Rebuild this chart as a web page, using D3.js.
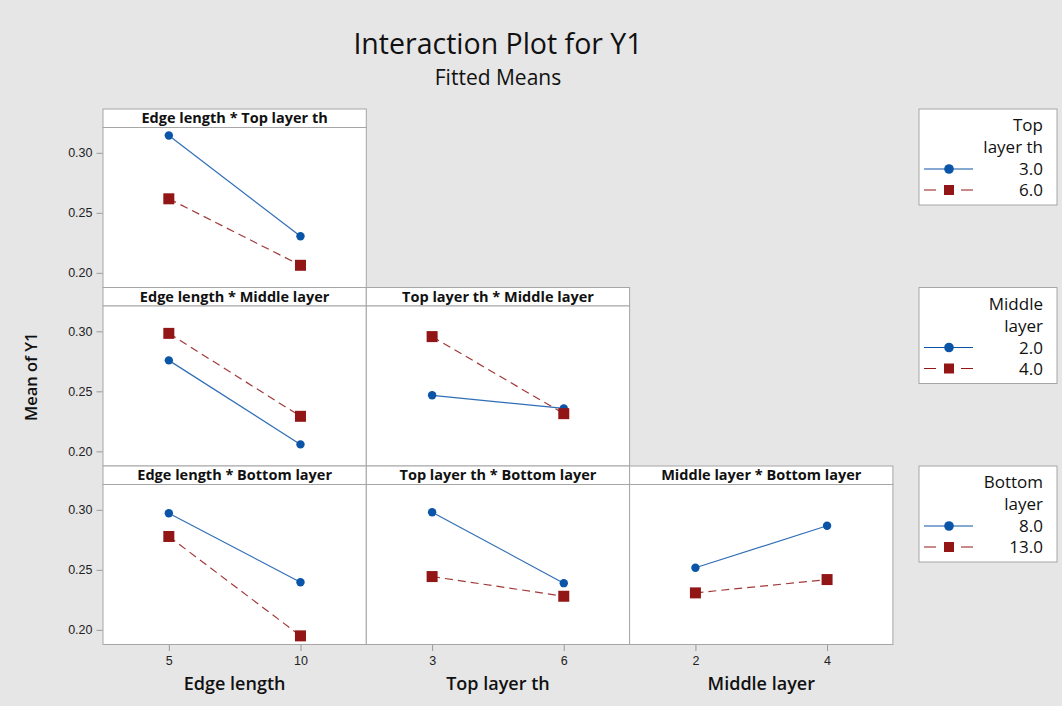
<!DOCTYPE html>
<meta charset="utf-8">
<style>
body { margin: 0; background: #e6e6e6; }
svg { display: block; font-family: "Open Sans", "Noto Sans", sans-serif; }
.frame { fill: #fff; stroke: #a6a6a6; stroke-width: 1; }
.tick line { stroke: #9a9a9a; }
.tick text { fill: #222; font-size: 12.5px; }
.hdr { font-size: 14.5px; font-weight: 700; fill: #111; }
.axtitle { font-size: 18px; font-weight: 600; fill: #111; }
.leg text { font-size: 17px; fill: #111; }
</style>
<svg width="1062" height="706"></svg>
<script src="https://cdn.jsdelivr.net/npm/d3@7"></script>
<script>

// factors and levels
var factors = ["Edge length", "Top layer th", "Middle layer", "Bottom layer"];
var levels = [[5, 10], [3, 6], [2, 4], [8, 13]];
var levelLabels = [["5", "10"], ["3", "6"], ["2", "4"], ["8.0", "13.0"]];
var legendLevels = [["3.0", "6.0"], ["2.0", "4.0"], ["8.0", "13.0"]];
var legendTitles = [["Top", "layer th"], ["Middle", "layer"], ["Bottom", "layer"]];

// fitted means: [trace level 1, trace level 2], each [at x level 1, at x level 2]
var edgeTopMeans = [[0.3144, 0.2305], [0.2617, 0.2063]];
var edgeMiddleMeans = [[0.2758, 0.2058], [0.2983, 0.2292]];
var topMiddleMeans = [[0.2467, 0.2358], [0.2956, 0.2314]];
var edgeBottomMeans = [[0.2972, 0.2397], [0.2778, 0.1950]];
var topBottomMeans = [[0.2980, 0.2389], [0.2444, 0.2280]];
var middleBottomMeans = [[0.2517, 0.2867], [0.2308, 0.2419]];

var yTicks = [0.20, 0.25, 0.30];

var panels = [
  {row: 0, col: 0, means: edgeTopMeans},
  {row: 1, col: 0, means: edgeMiddleMeans},
  {row: 1, col: 1, means: topMiddleMeans},
  {row: 2, col: 0, means: edgeBottomMeans},
  {row: 2, col: 1, means: topBottomMeans},
  {row: 2, col: 2, means: middleBottomMeans}
];

var blue = "#0a55a8", red = "#921616";

var svg = d3.select("svg");
svg.append("rect").attr("width", 1062).attr("height", 706).attr("fill", "#e6e6e6");

var gridLeft = 103, colW = 263.3, gridTop = 109, rowH = 178.5, hdrH = 18.5;
var plotH = rowH - hdrH;

var y0 = d3.scaleLinear().domain([0.1878, 0.3211]).range([plotH, 0]);

svg.append("text").attr("x", 498).attr("y", 54).attr("text-anchor", "middle")
  .style("font-size", "28.5px").style("fill", "#111").text("Interaction Plot for Y1");
svg.append("text").attr("x", 498).attr("y", 85).attr("text-anchor", "middle")
  .style("font-size", "21px").style("fill", "#111").text("Fitted Means");

svg.append("text").attr("class", "axtitle")
  .attr("transform", "translate(37," + (gridTop + 1.5 * rowH) + ") rotate(-90)")
  .attr("text-anchor", "middle").style("font-size", "16.5px").text("Mean of Y1");

panels.forEach(function(p) {
  var xf = p.col, tf = p.row + 1;
  var g = svg.append("g")
    .attr("transform", "translate(" + (gridLeft + p.col * colW) + "," + (gridTop + p.row * rowH) + ")");
  g.append("rect").attr("class", "frame").attr("width", colW).attr("height", hdrH);
  g.append("text").attr("class", "hdr").attr("x", colW / 2).attr("y", hdrH / 2 + 5)
    .attr("text-anchor", "middle").text(factors[xf] + " * " + factors[tf]);

  var pg = g.append("g").attr("transform", "translate(0," + hdrH + ")");
  pg.append("rect").attr("class", "frame").attr("width", colW).attr("height", plotH);

  var x = d3.scalePoint().domain(levels[xf]).range([0, colW]).padding(0.5);

  if (p.col == 0) {
    var ya = pg.append("g").attr("transform", "translate(-0.5,0)")
      .call(d3.axisLeft(y0).tickValues(yTicks).tickFormat(d3.format(".2f")).tickSize(6).tickPadding(4));
    ya.select(".domain").remove();
  }
  if (p.row == 2) {
    var xa = pg.append("g").attr("transform", "translate(0," + (plotH + 0.5) + ")")
      .call(d3.axisBottom(x).tickSize(6).tickPadding(5).tickFormat(function(d, i) { return levelLabels[xf][i]; }));
    xa.select(".domain").remove();
    pg.append("text").attr("class", "axtitle").attr("x", colW / 2).attr("y", plotH + 45)
      .attr("text-anchor", "middle").text(factors[xf]);
  }

  var line = d3.line().x(function(d, i) { return x(levels[xf][i]); }).y(function(d) { return y0(d); });

  pg.append("path").datum(p.means[0]).attr("d", line)
    .attr("fill", "none").attr("stroke", blue).attr("stroke-width", 1.2).attr("stroke-opacity", 0.85);
  pg.append("path").datum(p.means[1]).attr("d", line)
    .attr("fill", "none").attr("stroke", red).attr("stroke-width", 1.2).attr("stroke-opacity", 0.85)
    .attr("stroke-dasharray", "8,5");

  pg.selectAll(".c").data(p.means[0]).enter().append("circle")
    .attr("cx", function(d, i) { return x(levels[xf][i]); })
    .attr("cy", function(d) { return y0(d); })
    .attr("r", 4.2).attr("fill", blue);
  pg.selectAll(".s").data(p.means[1]).enter().append("rect")
    .attr("x", function(d, i) { return x(levels[xf][i]) - 5.5; })
    .attr("y", function(d) { return y0(d) - 5.5; })
    .attr("width", 11).attr("height", 11).attr("fill", red);
});

// legends
legendTitles.forEach(function(t, k) {
  var lg = svg.append("g").attr("class", "leg")
    .attr("transform", "translate(919," + (gridTop + k * rowH) + ")");
  lg.append("rect").attr("width", 138).attr("height", 96)
    .attr("fill", "#fff").attr("stroke", "#a6a6a6");
  t.forEach(function(s, j) {
    lg.append("text").attr("x", 124).attr("y", 22 + j * 22).attr("text-anchor", "end").text(s);
  });
  legendLevels[k].forEach(function(s, j) {
    var yy = 60 + j * 21;
    lg.append("text").attr("x", 124).attr("y", yy + 6).attr("text-anchor", "end").text(s);
    lg.append("line").attr("x1", 5).attr("x2", 54).attr("y1", yy).attr("y2", yy)
      .attr("stroke", j == 0 ? blue : red).attr("stroke-width", 1.2)
      .attr("stroke-dasharray", j == 0 ? null : "12,25,12");
    if (j == 0) lg.append("circle").attr("cx", 30).attr("cy", yy).attr("r", 4.8).attr("fill", blue);
    else lg.append("rect").attr("x", 25).attr("y", yy - 5).attr("width", 10).attr("height", 10).attr("fill", red);
  });
});

</script>
